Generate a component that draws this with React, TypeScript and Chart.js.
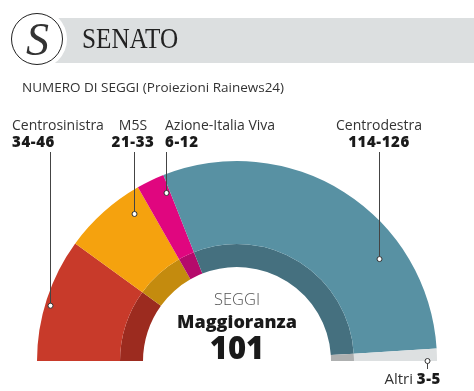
import React, { useEffect, useRef } from "react";
import { Chart, registerables } from "chart.js";

Chart.register(...registerables);

// ---- data ----
const categories = ["Centrosinistra", "M5S", "Azione-Italia Viva", "Centrodestra", "Altri"];
const seatRanges = ["34-46", "21-33", "6-12", "114-126", "3-5"];
const seatsMid = [40, 27, 9, 120, 4];
const majority = 101;
const mainColors = ["#c83a2a", "#f5a20e", "#e0067f", "#5891a3", "#dde0e1"];
const innerColors = ["#9c2b1f", "#c48b0e", "#b50a6b", "#45707f", "#aeb0b0"];

// leader layout (x of vertical line, dot radius as fraction of outer radius)
const leaders = [
  { x: 50, top: 152, r: 0.975 },
  { x: 134, top: 152, r: 0.8975 },
  { x: 166, top: 152, r: 0.912 },
  { x: 379, top: 152, r: 0.874 },
  { x: 427, bottom: 369, r: 0.95 },
];

const FONT = "'Open Sans', 'Noto Sans', sans-serif";

const leaderPlugin = {
  id: "leaders",
  afterDatasetsDraw(chart: any) {
    const meta = chart.getDatasetMeta(0);
    const arc: any = meta.data[0];
    if (!arc) return;
    const cx = arc.x, cy = arc.y, R = arc.outerRadius;
    const ctx = chart.ctx;
    ctx.save();
    leaders.forEach((l: any) => {
      const dx = l.x - cx;
      const rr = l.r * R;
      const dotY = cy - Math.sqrt(Math.max(rr * rr - dx * dx, 0));
      ctx.strokeStyle = "#444";
      ctx.lineWidth = 1;
      ctx.beginPath();
      if (l.top !== undefined) {
        ctx.moveTo(l.x + 0.5, l.top);
        ctx.lineTo(l.x + 0.5, dotY);
      } else {
        ctx.moveTo(l.x + 0.5, dotY);
        ctx.lineTo(l.x + 0.5, l.bottom);
      }
      ctx.stroke();
      ctx.beginPath();
      ctx.arc(l.x + 0.5, dotY, 2.5, 0, Math.PI * 2);
      ctx.fillStyle = "#fff";
      ctx.fill();
      ctx.strokeStyle = "#333";
      ctx.stroke();
    });
    ctx.restore();
  },
};

function Label({ left, top, align, name, range, width }: any) {
  const style: any = {
    position: "absolute",
    top,
    textAlign: align,
    fontFamily: FONT,
    color: "#333",
    whiteSpace: "nowrap",
  };
  if (align === "left") style.left = left;
  else if (align === "right") style.right = 474 - left;
  else {
    style.left = left - width / 2;
    style.width = width;
  }
  return (
    <div style={style}>
      <div style={{ fontSize: 14, lineHeight: "16px", fontWeight: 400 }}>{name}</div>
      <div style={{ fontSize: 15, lineHeight: "17px", fontWeight: 800, color: "#1a1a1a", letterSpacing: 0.6 }}>{range}</div>
    </div>
  );
}

export default function App() {
  const canvasRef = useRef<HTMLCanvasElement | null>(null);

  useEffect(() => {
    document.body.style.margin = "0";
    const canvas = canvasRef.current!;
    const chart = new Chart(canvas, {
      type: "doughnut",
      data: {
        labels: categories,
        datasets: [
          { data: seatsMid, backgroundColor: mainColors, borderWidth: 0, weight: 83 } as any,
          { data: seatsMid, backgroundColor: innerColors, borderWidth: 0, weight: 23 } as any,
        ],
      },
      options: {
        responsive: false,
        animation: false,
        events: [],
        rotation: -90,
        circumference: 180,
        cutout: "47%",
        layout: { padding: { left: 37, right: 37, top: 161, bottom: 30 } },
        plugins: { legend: { display: false }, tooltip: { enabled: false } },
      } as any,
      plugins: [leaderPlugin],
    });
    return () => chart.destroy();
  }, []);

  return (
    <div style={{ position: "absolute", left: 0, top: 0, width: 474, height: 391, background: "#fff", overflow: "hidden" }}>
      <canvas ref={canvasRef} width={474} height={391} style={{ position: "absolute", left: 0, top: 0, width: 474, height: 391 }} />
      {/* header band */}
      <div style={{ position: "absolute", left: 40, top: 18, width: 434, height: 45, background: "#dcdfe0" }} />
      <div style={{ position: "absolute", left: 37 - 30, top: 39 - 30, width: 60, height: 60, borderRadius: "50%", background: "#fff" }} />
      <div style={{ position: "absolute", left: 37 - 26, top: 39 - 26, width: 50, height: 50, borderRadius: "50%", border: "1.5px solid #222", boxSizing: "content-box" }} />
      <div style={{ position: "absolute", left: 11, top: 13, width: 53, height: 53, display: "flex", alignItems: "center", justifyContent: "center", fontFamily: "'Liberation Serif', serif", fontStyle: "italic", fontWeight: 400, fontSize: 46, color: "#333" }}>S</div>
      <div style={{ position: "absolute", left: 82, top: 22.5, fontFamily: "'Liberation Serif', serif", fontSize: 30, lineHeight: "30px", color: "#222", transform: "scaleX(0.84)", transformOrigin: "left top", whiteSpace: "nowrap" }}>SENATO</div>
      <div style={{ position: "absolute", left: 22, top: 79.5, fontFamily: FONT, fontSize: 13.5, lineHeight: "14px", color: "#333", whiteSpace: "nowrap" }}>NUMERO DI SEGGI (Proiezioni Rainews24)</div>

      <Label left={12} top={117} align="left" name={categories[0]} range={seatRanges[0]} />
      <Label left={133} top={117} align="center" width={80} name={categories[1]} range={seatRanges[1]} />
      <Label left={165} top={117} align="left" name={categories[2]} range={seatRanges[2]} />
      <Label left={379} top={117} align="center" width={120} name={categories[3]} range={seatRanges[3]} />

      <div style={{ position: "absolute", right: 474 - 441, top: 370, fontFamily: FONT, fontSize: 15, lineHeight: "17px", color: "#333", whiteSpace: "nowrap" }}>
        {categories[4]} <span style={{ fontWeight: 800, color: "#1a1a1a", letterSpacing: 0.6 }}>{seatRanges[4]}</span>
      </div>

      {/* center text */}
      <div style={{ position: "absolute", left: 137, width: 200, top: 290, textAlign: "center", fontFamily: FONT, fontSize: 16.5, lineHeight: "17px", fontWeight: 300, color: "#555" }}>SEGGI</div>
      <div style={{ position: "absolute", left: 137, width: 200, top: 312, textAlign: "center", fontFamily: FONT, fontSize: 18, lineHeight: "18px", fontWeight: 800, color: "#1a1a1a" }}>Maggioranza</div>
      <div style={{ position: "absolute", left: 137, width: 200, top: 331.5, textAlign: "center", fontFamily: FONT, fontSize: 31, lineHeight: "31px", fontWeight: 800, color: "#1a1a1a" }}>{majority}</div>
    </div>
  );
}
